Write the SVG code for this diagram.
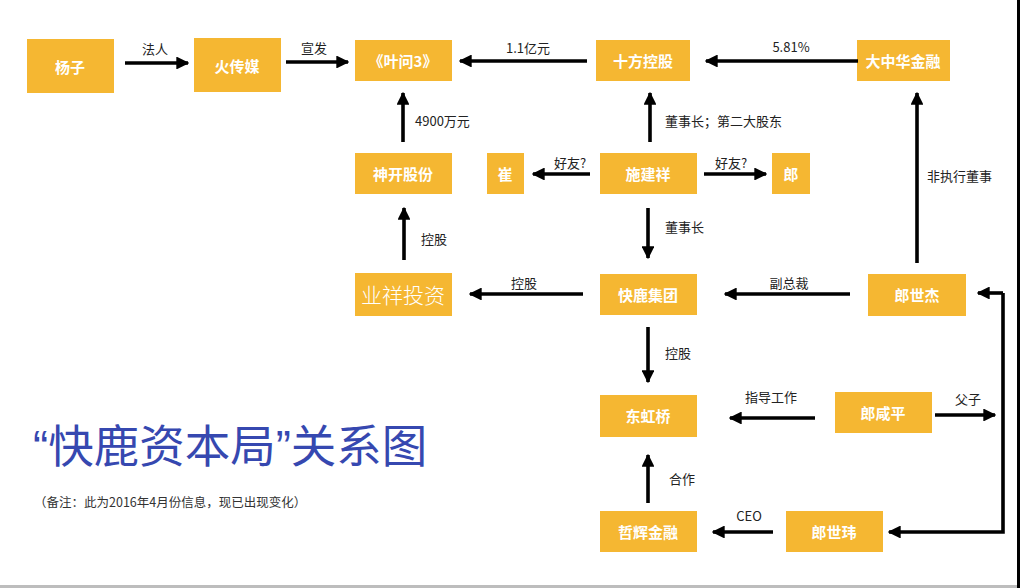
<svg xmlns="http://www.w3.org/2000/svg" width="1020" height="588" viewBox="0 0 1020 588">
<defs>
<marker id="ah" viewBox="0 0 10 10" refX="9" refY="5" markerWidth="3.6" markerHeight="3.6" orient="auto" markerUnits="strokeWidth">
<path d="M0,0 L10,5 L0,10 Z" fill="#000"/>
</marker>
<style>
.box{fill:#F5B732;}
.bt{font-family:"Noto Sans CJK SC","Liberation Sans",sans-serif;font-size:15px;font-weight:bold;fill:#fff;text-anchor:middle;dominant-baseline:central;}
.bt2{font-family:"Noto Sans CJK SC","Liberation Sans",sans-serif;font-size:21px;font-weight:300;fill:#fff;text-anchor:middle;dominant-baseline:central;}
.c line,.c polyline{stroke:#000;stroke-width:3.6;fill:none;marker-end:url(#ah);}
.c polyline.nm{marker-end:none;}
.lb{font-family:"Noto Sans CJK SC","Liberation Sans",sans-serif;font-size:13px;fill:#222;dominant-baseline:central;}
.mid{text-anchor:middle;}
</style>
</defs>
<rect x="0" y="0" width="1020" height="588" fill="#fff"/>
<rect x="0" y="585" width="1020" height="3" fill="#bdbdbd"/>
<rect x="1017" y="0" width="3" height="588" fill="#000"/>

<g id="yangzi"><rect class="box" x="27" y="39" width="87" height="54"/><text class="bt" x="70" y="66">杨子</text></g>
<g id="huochuanmei"><rect class="box" x="194" y="38" width="87" height="54"/><text class="bt" x="237" y="65">火传媒</text></g>
<g id="yewen3"><rect class="box" x="355" y="40" width="97" height="41"/><text class="bt" x="403" y="60">《叶问3》</text></g>
<g id="shifang"><rect class="box" x="596" y="40" width="94" height="41"/><text class="bt" x="643" y="60">十方控股</text></g>
<g id="dazhonghua"><rect class="box" x="857" y="40" width="93" height="41"/><text class="bt" x="903" y="60">大中华金融</text></g>
<g id="shenkai"><rect class="box" x="355" y="153" width="97" height="41"/><text class="bt" x="403" y="173">神开股份</text></g>
<g id="cui"><rect class="box" x="487" y="153" width="37" height="41"/><text class="bt" x="505" y="173">崔</text></g>
<g id="shijianxiang"><rect class="box" x="600" y="153" width="97" height="41"/><text class="bt" x="648" y="173">施建祥</text></g>
<g id="lang"><rect class="box" x="772" y="153" width="38" height="41"/><text class="bt" x="791" y="173">郎</text></g>
<g id="yexiang"><rect class="box" x="355" y="273" width="97" height="43"/><text class="bt2" x="403" y="294">业祥投资</text></g>
<g id="kuailu"><rect class="box" x="600" y="274" width="97" height="41"/><text class="bt" x="648" y="294">快鹿集团</text></g>
<g id="langshijie"><rect class="box" x="868" y="274" width="98" height="42"/><text class="bt" x="917" y="294">郎世杰</text></g>
<g id="donghongqiao"><rect class="box" x="600" y="395" width="97" height="42"/><text class="bt" x="648" y="415">东虹桥</text></g>
<g id="langxianping"><rect class="box" x="835" y="392" width="97" height="41"/><text class="bt" x="883" y="412">郎咸平</text></g>
<g id="zhehui"><rect class="box" x="600" y="511" width="97" height="41"/><text class="bt" x="648" y="531">哲辉金融</text></g>
<g id="langshiwei"><rect class="box" x="786" y="511" width="97" height="41"/><text class="bt" x="834" y="531">郎世玮</text></g>

<g id="connectors" class="c">
<line x1="125" y1="63" x2="188" y2="63"/>
<line x1="286" y1="62" x2="348" y2="62"/>
<line x1="587" y1="61" x2="460" y2="61"/>
<line x1="858" y1="61" x2="706" y2="61"/>
<line x1="403" y1="142" x2="403" y2="93"/>
<line x1="650" y1="142" x2="650" y2="93"/>
<line x1="590" y1="174" x2="533" y2="174"/>
<line x1="704" y1="174" x2="766" y2="174"/>
<line x1="648" y1="208" x2="648" y2="258"/>
<line x1="404" y1="260" x2="404" y2="208"/>
<line x1="583" y1="294" x2="470" y2="294"/>
<line x1="850" y1="294" x2="725" y2="294"/>
<line x1="917" y1="263" x2="917" y2="93"/>
<line x1="648" y1="327" x2="648" y2="382"/>
<line x1="815" y1="418" x2="730" y2="418"/>
<line x1="935" y1="415" x2="995" y2="415"/>
<polyline points="1003,293 1003,532 890,532" class="nm"/>
<line x1="1003" y1="293" x2="978" y2="293"/>
<line x1="890" y1="532" x2="889" y2="532"/>
<line x1="773" y1="532" x2="713" y2="532"/>
<line x1="648" y1="503" x2="648" y2="455"/>
</g>

<g id="labels">
<text class="lb mid" x="155" y="48">法人</text>
<text class="lb mid" x="314" y="47">宣发</text>
<text class="lb mid" x="528" y="47">1.1亿元</text>
<text class="lb mid" x="791" y="46">5.81%</text>
<text class="lb" x="415" y="120">4900万元</text>
<text class="lb" x="665" y="120">董事长；第二大股东</text>
<text class="lb mid" x="570" y="162">好友?</text>
<text class="lb mid" x="731" y="162">好友?</text>
<text class="lb" x="665" y="226">董事长</text>
<text class="lb" x="421" y="238">控股</text>
<text class="lb mid" x="524" y="282">控股</text>
<text class="lb mid" x="789" y="282">副总裁</text>
<text class="lb" x="927" y="175">非执行董事</text>
<text class="lb" x="665" y="352">控股</text>
<text class="lb mid" x="771" y="396">指导工作</text>
<text class="lb mid" x="968" y="398">父子</text>
<text class="lb mid" x="749" y="515">CEO</text>
<text class="lb" x="669" y="478">合作</text>
</g>

<text x="33" y="463" font-family="Liberation Sans,Noto Sans CJK SC,sans-serif" font-size="45.5" fill="#3648B0">“快鹿资本局”关系图</text>
<text x="34" y="501" font-family="Noto Sans CJK SC,Liberation Sans,sans-serif" font-size="12.5" fill="#333" dominant-baseline="central">（备注：此为2016年4月份信息，现已出现变化）</text>
</svg>
